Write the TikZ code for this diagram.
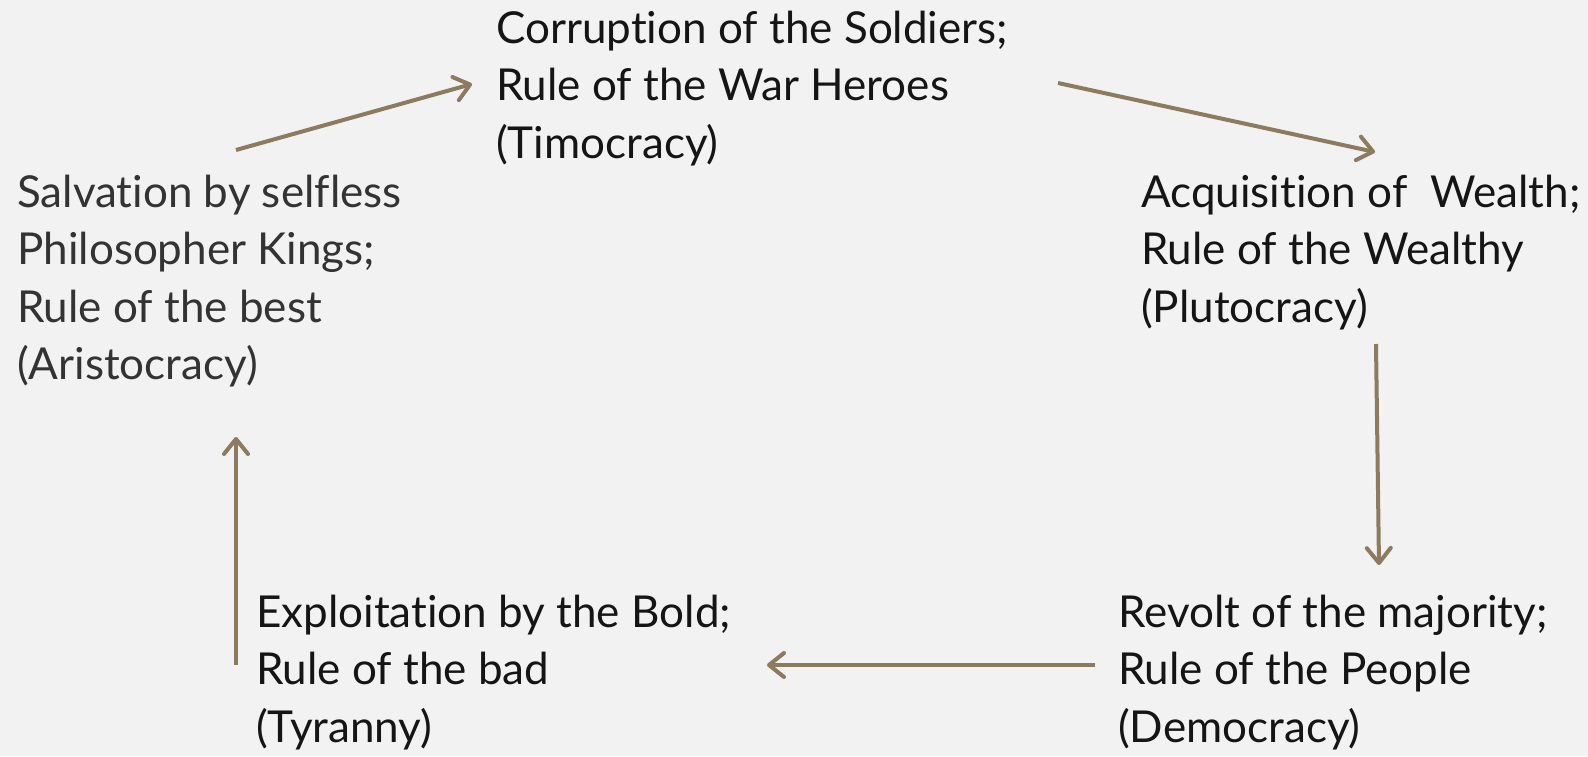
\documentclass[tikz,border=0pt]{standalone}
\usepackage{fontspec}
\setmainfont{Lato}[Ligatures={NoCommon}]
\usetikzlibrary{arrows.meta}
\definecolor{bg}{HTML}{F2F2F2}
\definecolor{arr}{HTML}{8C7B5E}
\definecolor{txt}{HTML}{151515}
\definecolor{txtg}{HTML}{333333}
\tikzset{
  blk/.style={anchor=base west, inner sep=0pt, align=left, text=txt,
    font=\fontsize{44}{57.5}\selectfont},
  cyc/.style={draw=arr, line width=4pt,
    -{Straight Barb[length=15pt,width=24pt,line width=4pt,line cap=round,line join=round]}}
}
\begin{document}
\begin{tikzpicture}[x=1pt,y=-1pt]
\fill[bg] (0,0) rectangle (1588,756);
\useasboundingbox (0,0) rectangle (1588,756);
% base west anchor = baseline of the last line
\node[blk] (tim) at (496,158) {Corruption of the Soldiers;\\Rule of the War Heroes\\(Timocracy)};
\node[blk, text=txtg] (ari) at (17,379.5) {Salvation by selfless\\Philosopher Kings;\\Rule of the best\\(Aristocracy)};
\node[blk] (plu) at (1141,322) {Acquisition of \ Wealth;\\Rule of the Wealthy\\(Plutocracy)};
\node[blk] (dem) at (1118,742) {Revolt of the majority;\\Rule of the People\\(Democracy)};
\node[blk] (tyr) at (256,742) {Exploitation by the Bold;\\Rule of the bad\\(Tyranny)};
\coordinate (a1) at (236,150);
\coordinate (a2) at (472,84);
\coordinate (b1) at (1058,83);
\coordinate (b2) at (1375,152);
\coordinate (c1) at (1376,344);
\coordinate (c2) at (1379,565);
\coordinate (d1) at (1095,665);
\coordinate (d2) at (767,665);
\coordinate (e1) at (236,665);
\coordinate (e2) at (236,437);
\draw[cyc] (a1) -- (a2);
\draw[cyc] (b1) -- (b2);
\draw[cyc] (c1) -- (c2);
\draw[cyc] (d1) -- (d2);
\draw[cyc] (e1) -- (e2);
\end{tikzpicture}
\end{document}
